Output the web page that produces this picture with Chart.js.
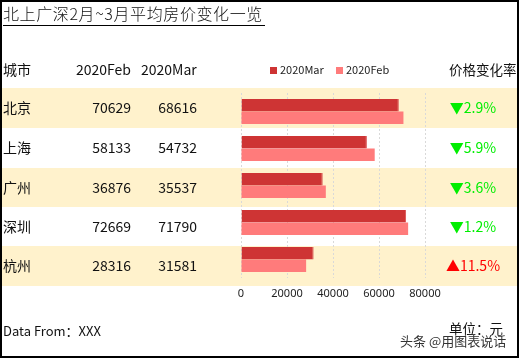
<!DOCTYPE html>
<html><head><meta charset="utf-8">
<script src="https://cdn.jsdelivr.net/npm/chart.js@4/dist/chart.umd.min.js"></script>
<style>
html,body{margin:0;padding:0;background:#fff;}
body{width:519px;height:359px;position:relative;overflow:hidden;font-family:"Noto Sans CJK SC","Noto Sans",sans-serif;color:#111;}
.abs{position:absolute;white-space:nowrap;}
#frame{position:absolute;left:0;top:0;width:519px;height:358px;border:2px solid #000;box-sizing:border-box;z-index:5;pointer-events:none;}
.band{position:absolute;left:0;width:519px;background:#FFF2CC;}
#title{left:3px;top:1px;font-size:16px;line-height:24px;border-bottom:1px solid #000;padding-right:2px;letter-spacing:0.6px;font-weight:300;}
.cell{font-size:14px;line-height:20px;}
.num{text-align:right;width:60px;}
.pct{font-size:14px;line-height:20px;width:70px;text-align:center;}
#chartbox{position:absolute;left:0;top:0;width:519px;height:359px;}
.lg{font-size:11px;line-height:14px;color:#222;}
.sq{display:inline-block;width:7px;height:7px;margin-right:3px;vertical-align:0px;}
</style></head>
<body>
<div id="bands"></div>
<div id="chartbox"><canvas id="c" width="519" height="359"></canvas></div>
<div id="texts"></div>
<div id="frame"></div>
<script>
const titleText = "北上广深2月~3月平均房价变化一览";
const cities = ["北京","上海","广州","深圳","杭州"];
const feb = [70629, 58133, 36876, 72669, 28316];
const mar = [68616, 54732, 35537, 71790, 31581];
const changeDir = ["down","down","down","down","up"];
const changePct = ["2.9%","5.9%","3.6%","1.2%","11.5%"];
const seriesNames = ["2020Mar","2020Feb"];
const xTicks = [0, 20000, 40000, 60000, 80000];

const rowTops = [88,128,168,207,246,286];
const bands = document.getElementById('bands');
[0,2,4].forEach(i=>{
  const d=document.createElement('div');d.className='band';
  d.style.top=rowTops[i]+'px';d.style.height=(rowTops[i+1]-rowTops[i])+'px';
  bands.appendChild(d);
});

const T = document.getElementById('texts');
function add(html, cls, left, top, extra){
  const d=document.createElement('div');d.className='abs '+cls;d.innerHTML=html;
  d.style.left=left+'px';d.style.top=top+'px';
  if(extra) Object.assign(d.style, extra);
  T.appendChild(d);return d;
}
add(titleText,'',3,1,{}).id='title';
add('城市','cell',3,59);
add('2020Feb','cell',76,59);
add('2020Mar','cell',141,59);
add('价格变化率','cell',449,59,{fontSize:'13.5px'});
add('<span class="sq" style="background:#CE3434"></span>'+seriesNames[0],'lg',270,62);
add('<span class="sq" style="background:#FF7B7B"></span>'+seriesNames[1],'lg',336,62);
for(let i=0;i<cities.length;i++){
  const cy=(rowTops[i]+rowTops[i+1])/2;
  add(cities[i],'cell',3,cy-11);
  add(String(feb[i]),'cell num',71,cy-11);
  add(String(mar[i]),'cell num',137,cy-11);
  const up = changeDir[i]==='up';
  add((up?'▲':'▼')+changePct[i],'pct',438,cy-11,{color: up?'#FF0000':'#00EE00'});
}
add('Data From：XXX','',3,321,{fontSize:'13px',lineHeight:'20px'});
add('单位：元','',449,318,{fontSize:'13.5px',lineHeight:'20px'});
add('头条 @用图表说话','',400,332,{fontSize:'13px',lineHeight:'18px',color:'#333',textShadow:'0 0 2px #fff,0 0 2px #fff'});

new Chart(document.getElementById('c'), {
  type:'bar',
  data:{
    labels: cities,
    datasets:[
      {label:seriesNames[0], data:mar, backgroundColor:'#CE3434', borderColor:'#D95050', borderWidth:{right:1,top:0,bottom:0,left:0}},
      {label:seriesNames[1], data:feb, backgroundColor:'#FF7B7B', borderColor:'#FF8C8C', borderWidth:0}
    ]
  },
  options:{
    indexAxis:'y',
    responsive:false,
    animation:false,
    events:[],
    layout:{padding:{left:241,right:94,top:93,bottom:0}},
    plugins:{legend:{display:false},tooltip:{enabled:false}},
    datasets:{bar:{categoryPercentage:0.68,barPercentage:1}},
    scales:{
      x:{
        min:0,max:80000,
        afterBuildTicks:(s)=>{s.ticks = xTicks.map(v=>({value:v}));},
        afterFit:(s)=>{s.height = 81;},
        grid:{color:'#D9D9D9',drawTicks:false,lineWidth:1},
        border:{display:false,dash:[2,2]},
        ticks:{padding:9,color:'#222',callback:(v)=>String(v),font:{size:11,family:'"Noto Sans","Noto Sans CJK SC",sans-serif'},maxRotation:0,autoSkip:false}
      },
      y:{display:false}
    }
  }
});
</script>
</body></html>
